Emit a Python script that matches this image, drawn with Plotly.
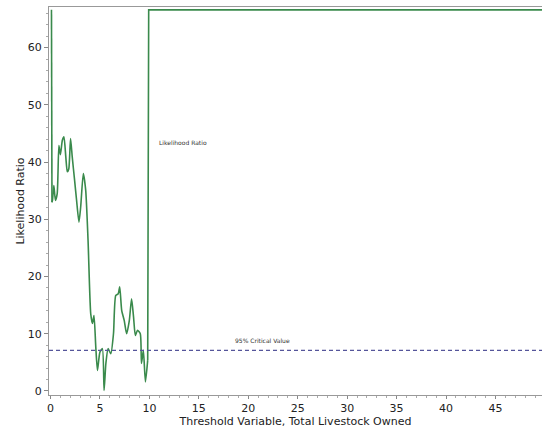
import plotly.graph_objects as go

threshold = [0.10, 0.15, 0.20, 0.34, 0.50, 0.68, 0.85, 1.00, 1.20, 1.36, 1.55, 1.70, 1.85, 2.03, 2.20,
             2.44, 2.64, 2.88, 3.05, 3.32, 3.56, 3.80, 4.07, 4.24, 4.40, 4.58, 4.75, 5.00, 5.25,
             5.42, 5.60, 5.83, 6.10, 6.37, 6.60, 6.85, 7.00, 7.20, 7.46, 7.70, 7.97, 8.20, 8.40,
             8.58, 8.80, 9.08, 9.20, 9.39, 9.60, 9.83, 9.93, 49.7]
likelihood_ratio = [66.6, 33.0, 33.3, 35.9, 33.3, 34.5, 42.9, 41.3, 43.8, 44.4, 40.9, 38.3, 38.8, 44.1, 40.9,
                    36.8, 33.3, 29.5, 32.1, 38.0, 35.1, 26.3, 13.5, 11.8, 13.2, 7.7, 3.6, 6.8, 7.4,
                    0.1, 4.8, 7.4, 6.5, 10.0, 16.7, 17.0, 18.2, 14.1, 12.3, 10.0, 12.3, 16.1, 12.9,
                    9.7, 10.6, 10.0, 4.8, 7.1, 1.6, 5.4, 66.6, 66.6]
critical_value = 7.1
x_range = [-0.15, 49.7]

line_color = "#3a8a4c"
n = len(threshold)
segments = [(0, 2, "linear"), (1, n - 2, "spline"), (n - 3, n, "linear")]

fig = go.Figure()
for a, b, shape in segments:
    fig.add_trace(go.Scatter(x=threshold[a:b], y=likelihood_ratio[a:b], mode="lines",
                             line=dict(color=line_color, width=1.6, shape=shape,
                                       smoothing=0.6 if shape == "spline" else None),
                             showlegend=False))
fig.add_trace(go.Scatter(x=x_range, y=[critical_value, critical_value], mode="lines",
                         line=dict(color="#55559a", width=1.2, dash="4px,3px"),
                         showlegend=False))

fig.add_annotation(x=10.8, y=43.4, text="Likelihood Ratio", showarrow=False, xanchor="left",
                   font=dict(size=6, color="#333", family="DejaVu Sans"))
fig.add_annotation(x=18.5, y=8.8, text="95% Critical Value", showarrow=False, xanchor="left",
                   font=dict(size=6, color="#333", family="DejaVu Sans"))

fig.update_layout(
    width=542, height=433,
    margin=dict(l=49, r=0, t=7, b=38),
    plot_bgcolor="white", paper_bgcolor="white",
    font=dict(family="DejaVu Sans", size=11, color="#222"),
    xaxis=dict(range=x_range, tickvals=[0, 5, 10, 15, 20, 25, 30, 35, 40, 45],
               showgrid=False, zeroline=False, showline=True, linecolor="#999", mirror=True,
               ticks="outside", ticklen=3, tickcolor="#888",
               minor=dict(dtick=1, ticks="outside", ticklen=2, tickcolor="#aaa"),
               title=dict(text="Threshold Variable, Total Livestock Owned", standoff=1,
                          font=dict(size=11))),
    yaxis=dict(range=[-0.7, 67.1], tickvals=[0, 10, 20, 30, 40, 50, 60],
               showgrid=False, zeroline=False, showline=True, linecolor="#999",
               ticks="outside", ticklen=4, tickcolor="#888",
               minor=dict(dtick=2, ticks="outside", ticklen=2, tickcolor="#aaa"),
               title=dict(text="Likelihood Ratio", standoff=0, font=dict(size=11))),
)

fig.write_html("out.html")
